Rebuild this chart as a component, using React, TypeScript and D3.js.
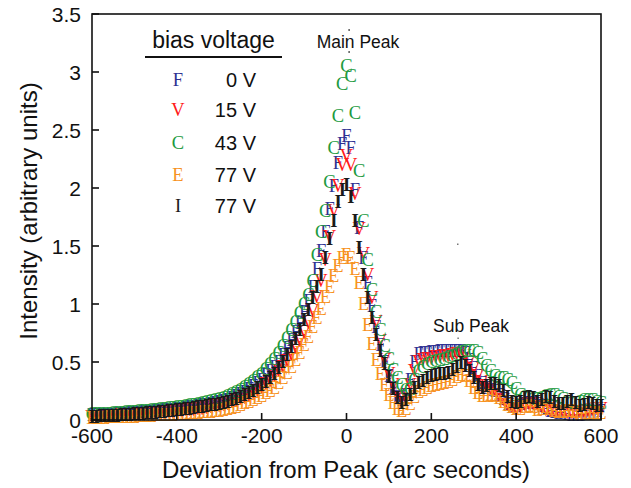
import React from "react";
import * as d3 from "d3";

// x grid: deviation from peak (arc seconds), step 10
const xValues: number[] = d3.range(-600, 601, 10);

// series values (arbitrary units), -600 .. 600 step 10
const blueF: number[] = [
  0.04, 0.04, 0.042, 0.044, 0.046, 0.048, 0.05, 0.052, 0.055, 0.058,
  0.06, 0.063, 0.066, 0.069, 0.072, 0.076, 0.08, 0.083, 0.087, 0.091,
  0.095, 0.1, 0.104, 0.109, 0.114, 0.12, 0.126, 0.132, 0.139, 0.147,
  0.155, 0.165, 0.177, 0.19, 0.205, 0.225, 0.245, 0.268, 0.293, 0.32,
  0.35, 0.385, 0.42, 0.46, 0.5, 0.56, 0.62, 0.69, 0.76, 0.84,
  0.93, 1.03, 1.15, 1.3, 1.46, 1.62, 1.82, 2.02, 2.22, 2.38,
  2.45,
  2.35, 1.98, 1.66, 1.4, 1.18, 0.98, 0.8, 0.65, 0.5, 0.38,
  0.28, 0.2, 0.17, 0.22, 0.35, 0.5, 0.57, 0.58, 0.58, 0.59,
  0.59, 0.6, 0.6, 0.6, 0.6, 0.6, 0.6, 0.58, 0.52, 0.45,
  0.38, 0.32, 0.28, 0.26, 0.25, 0.22, 0.18, 0.14, 0.11, 0.1,
  0.12, 0.14, 0.15, 0.15, 0.14, 0.12, 0.1, 0.08, 0.07, 0.06,
  0.06, 0.05, 0.04, 0.04, 0.04, 0.04, 0.05, 0.05, 0.06, 0.08,
];

const redV: number[] = [
  0.03, 0.03, 0.031, 0.033, 0.034, 0.036, 0.038, 0.04, 0.042, 0.044,
  0.046, 0.048, 0.05, 0.053, 0.056, 0.059, 0.062, 0.065, 0.068, 0.071,
  0.075, 0.079, 0.083, 0.087, 0.091, 0.095, 0.1, 0.106, 0.112, 0.118,
  0.125, 0.133, 0.142, 0.152, 0.164, 0.178, 0.194, 0.212, 0.232, 0.255,
  0.28, 0.31, 0.34, 0.38, 0.42, 0.46, 0.51, 0.56, 0.62, 0.68,
  0.75, 0.84, 0.94, 1.06, 1.2, 1.38, 1.58, 1.8, 2.02, 2.2,
  2.28,
  2.2, 1.95, 1.65, 1.43, 1.25, 1.05, 0.85, 0.68, 0.52, 0.4,
  0.3, 0.22, 0.18, 0.2, 0.3, 0.42, 0.5, 0.52, 0.53, 0.53,
  0.54, 0.54, 0.55, 0.55, 0.56, 0.57, 0.57, 0.55, 0.5, 0.44,
  0.38, 0.33, 0.29, 0.27, 0.25, 0.21, 0.17, 0.13, 0.11, 0.1,
  0.11, 0.13, 0.14, 0.14, 0.13, 0.11, 0.09, 0.08, 0.07, 0.07,
  0.07, 0.06, 0.06, 0.06, 0.07, 0.07, 0.08, 0.09, 0.1, 0.1,
];

const greenC: number[] = [
  0.05, 0.05, 0.052, 0.054, 0.056, 0.058, 0.06, 0.063, 0.066, 0.069,
  0.072, 0.075, 0.078, 0.082, 0.086, 0.09, 0.094, 0.098, 0.102, 0.107,
  0.112, 0.117, 0.122, 0.128, 0.134, 0.14, 0.147, 0.154, 0.162, 0.171,
  0.18, 0.193, 0.207, 0.222, 0.24, 0.26, 0.283, 0.31, 0.338, 0.368,
  0.4, 0.44, 0.48, 0.53, 0.58, 0.64, 0.71, 0.78, 0.85, 0.92,
  1.0, 1.08, 1.2, 1.42, 1.62, 1.8, 2.05, 2.35, 2.62, 2.9,
  3.05,
  2.97, 2.65, 2.15, 1.72, 1.38, 1.12, 0.93, 0.78, 0.64, 0.53,
  0.43, 0.36, 0.3, 0.26, 0.27, 0.35, 0.42, 0.46, 0.48, 0.5,
  0.51, 0.52, 0.53, 0.54, 0.55, 0.57, 0.59, 0.6, 0.6, 0.6,
  0.58, 0.53, 0.47, 0.42, 0.38, 0.36, 0.36, 0.35, 0.32, 0.27,
  0.22, 0.2, 0.19, 0.18, 0.18, 0.19, 0.21, 0.22, 0.22, 0.2,
  0.18, 0.16, 0.15, 0.15, 0.16, 0.17, 0.17, 0.17, 0.16, 0.15,
];

const orangeE: number[] = [
  0.02, 0.02, 0.021, 0.022, 0.023, 0.024, 0.025, 0.026, 0.027, 0.028,
  0.03, 0.032, 0.034, 0.036, 0.038, 0.04, 0.042, 0.044, 0.046, 0.048,
  0.05, 0.053, 0.056, 0.059, 0.062, 0.065, 0.068, 0.071, 0.074, 0.077,
  0.08, 0.088, 0.096, 0.105, 0.116, 0.13, 0.145, 0.16, 0.175, 0.192,
  0.21, 0.23, 0.25, 0.28, 0.32, 0.36, 0.41, 0.46, 0.52, 0.58,
  0.65, 0.72, 0.8, 0.88, 0.96, 1.06, 1.15, 1.24, 1.33, 1.4,
  1.42,
  1.4, 1.3, 1.18, 1.0, 0.82, 0.66, 0.52, 0.4, 0.3, 0.22,
  0.15, 0.1, 0.08, 0.1, 0.14, 0.2, 0.24, 0.26, 0.28, 0.29,
  0.3, 0.31, 0.32, 0.33, 0.35, 0.37, 0.39, 0.38, 0.34, 0.28,
  0.23, 0.21, 0.21, 0.22, 0.21, 0.19, 0.16, 0.13, 0.11, 0.1,
  0.1, 0.11, 0.12, 0.11, 0.09, 0.1, 0.11, 0.1, 0.08, 0.07,
  0.07, 0.08, 0.08, 0.07, 0.05, 0.05, 0.06, 0.06, 0.05, 0.06,
];

const blackI: number[] = [
  0.03, 0.03, 0.032, 0.034, 0.035, 0.037, 0.039, 0.041, 0.043, 0.046,
  0.05, 0.052, 0.055, 0.058, 0.061, 0.065, 0.068, 0.072, 0.076, 0.08,
  0.085, 0.09, 0.094, 0.099, 0.104, 0.11, 0.115, 0.121, 0.128, 0.134,
  0.14, 0.15, 0.16, 0.172, 0.185, 0.2, 0.215, 0.235, 0.255, 0.277,
  0.3, 0.33, 0.36, 0.4, 0.45, 0.5, 0.56, 0.63, 0.7, 0.78,
  0.86, 0.95, 1.05, 1.15, 1.25, 1.4, 1.56, 1.72, 1.88, 1.98,
  2.03,
  1.92, 1.72, 1.48, 1.25, 1.05, 0.88, 0.73, 0.6, 0.48, 0.37,
  0.27, 0.19, 0.15, 0.17, 0.22, 0.28, 0.32, 0.34, 0.36, 0.38,
  0.39, 0.4, 0.4, 0.41, 0.43, 0.46, 0.49, 0.47, 0.42, 0.36,
  0.3, 0.28, 0.29, 0.31, 0.31, 0.29, 0.25, 0.2, 0.16, 0.15,
  0.16, 0.19, 0.2, 0.19, 0.16, 0.17, 0.2, 0.19, 0.16, 0.14,
  0.14, 0.16, 0.17, 0.15, 0.12, 0.13, 0.15, 0.14, 0.12, 0.12,
];

const seriesGlyphs: string[] = ["F", "V", "C", "E", "I"];
const seriesColors: string[] = ["#2e3192", "#ff1a1a", "#219a3e", "#f7921e", "#1a1a1a"];
const seriesLabels: string[] = ["0 V", "15 V", "43 V", "77 V", "77 V"];
const seriesWeights: string[] = ["normal", "normal", "normal", "normal", "bold"];
const seriesData: number[][] = [blueF, redV, greenC, orangeE, blackI];

const xTicks: number[] = [-600, -400, -200, 0, 200, 400, 600];
const yTicks: number[] = [0, 0.5, 1, 1.5, 2, 2.5, 3, 3.5];
const yTickLabels: string[] = ["0", "0.5", "1", "1.5", "2", "2.5", "3", "3.5"];

const SANS = "'Liberation Sans', Arial, sans-serif";
const SERIF = "'Liberation Serif', 'Times New Roman', serif";

export default function App() {
  const W = 631;
  const H = 488;
  const left = 92, right = 601, top = 14, bottom = 420;
  const x = d3.scaleLinear().domain([-600, 600]).range([left, right]);
  const y = d3.scaleLinear().domain([0, 3.5]).range([bottom, top]);

  const legendRowY = [80, 110, 143, 175, 206];

  return (
    <svg
      width={W}
      height={H}
      viewBox={`0 0 ${W} ${H}`}
      style={{ position: "absolute", left: 0, top: 0, background: "#fff" }}
    >
      {/* data markers */}
      {seriesData.map((vals, si) => (
        <g
          key={si}
          fill={seriesColors[si]}
          fontFamily={SERIF}
          fontSize={18.5}
          fontWeight={seriesWeights[si]}
          textAnchor="middle"
        >
          {vals.map((v, i) => (
            <text key={i} x={x(xValues[i])} y={y(v)} dy="0.33em">
              {seriesGlyphs[si]}
            </text>
          ))}
        </g>
      ))}

      {/* frame */}
      <rect x={left} y={top} width={right - left} height={bottom - top} fill="none" stroke="#111" strokeWidth={1.6} />

      {/* x ticks */}
      {xTicks.map((t) => (
        <g key={t}>
          <line x1={x(t)} x2={x(t)} y1={bottom} y2={bottom - 7} stroke="#111" strokeWidth={1.6} />
          <text x={x(t)} y={443} textAnchor="middle" fontFamily={SANS} fontSize={21} fill="#111">
            {t}
          </text>
        </g>
      ))}

      {/* y ticks */}
      {yTicks.map((t, i) => (
        <g key={t}>
          <line x1={left} x2={left + 7} y1={y(t)} y2={y(t)} stroke="#111" strokeWidth={1.6} />
          <text x={81} y={y(t)} dy="0.36em" textAnchor="end" fontFamily={SANS} fontSize={21} fill="#111">
            {yTickLabels[i]}
          </text>
        </g>
      ))}

      {/* axis titles */}
      <text x={346} y={478} textAnchor="middle" fontFamily={SANS} fontSize={24} fill="#111">
        Deviation from Peak (arc seconds)
      </text>
      <text
        transform={`translate(37, 211) rotate(-90)`}
        textAnchor="middle"
        fontFamily={SANS}
        fontSize={24}
        fill="#111"
      >
        Intensity (arbitrary units)
      </text>

      {/* legend */}
      <text x={213.5} y={48} textAnchor="middle" fontFamily={SANS} fontSize={23} fill="#111">
        bias voltage
      </text>
      <line x1={145} x2={282} y1={57} y2={57} stroke="#111" strokeWidth={2} />
      {seriesGlyphs.map((g, i) => (
        <g key={i}>
          <text x={178} y={legendRowY[i]} dy="0.33em" textAnchor="middle" fontFamily={SERIF} fontSize={18.5} fill={seriesColors[i]}>
            {g}
          </text>
          <text x={256} y={legendRowY[i]} dy="0.36em" textAnchor="end" fontFamily={SANS} fontSize={20} fill="#111">
            {seriesLabels[i]}
          </text>
        </g>
      ))}

      {/* annotations */}
      <text x={358} y={48} textAnchor="middle" fontFamily={SANS} fontSize={17.5} fill="#111">
        Main Peak
      </text>
      <rect x={348.5} y={29} width={1.2} height={2} fill="#333" />
      <rect x={348.5} y={51} width={1.2} height={2} fill="#333" />
      <text x={471} y={332} textAnchor="middle" fontFamily={SANS} fontSize={17.5} fill="#111">
        Sub Peak
      </text>
      <rect x={457.5} y={337.5} width={1.2} height={1.5} fill="#555" />
      <rect x={457} y={243.5} width={1.5} height={1.5} fill="#777" />
    </svg>
  );
}
